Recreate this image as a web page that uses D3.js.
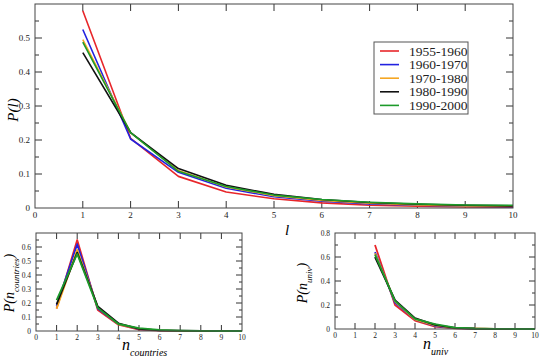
<!DOCTYPE html>
<html>
<head>
<meta charset="utf-8">
<script src="https://cdn.jsdelivr.net/npm/d3@7"></script>
<style>
  body { margin: 0; background: #fff; }
</style>
</head>
<body>
<div id="chart"></div>
<script>
(function() {
    const width = 545;
    const height = 363;
    const serif = "'Liberation Serif', 'Times New Roman', Times, 'DejaVu Serif', serif";

    // series names and colours
    const periods = ["1955-1960", "1960-1970", "1970-1980", "1980-1990", "1990-2000"];
    const colors = ["#e8262a", "#2222e0", "#f5a623", "#111111", "#1c9a2a"];

    // P(l), l = 1..10
    const lValues = [1, 2, 3, 4, 5, 6, 7, 8, 9, 10];
    const pL_1955 = [0.580, 0.205, 0.093, 0.047, 0.027, 0.015, 0.008, 0.005, 0.003, 0.002];
    const pL_1960 = [0.525, 0.203, 0.105, 0.058, 0.033, 0.020, 0.012, 0.008, 0.005, 0.004];
    const pL_1970 = [0.495, 0.222, 0.110, 0.062, 0.036, 0.022, 0.014, 0.009, 0.006, 0.005];
    const pL_1980 = [0.457, 0.222, 0.116, 0.067, 0.040, 0.025, 0.016, 0.011, 0.008, 0.006];
    const pL_1990 = [0.488, 0.222, 0.108, 0.063, 0.038, 0.025, 0.017, 0.012, 0.009, 0.008];

    // P(n_countries), n = 1..10
    const nCountries = [1, 2, 3, 4, 5, 6, 7, 8, 9, 10];
    const pC_1955 = [0.160, 0.650, 0.150, 0.045, 0.010, 0.003, 0.001, 0, 0, 0];
    const pC_1960 = [0.180, 0.620, 0.160, 0.050, 0.013, 0.004, 0.001, 0, 0, 0];
    const pC_1970 = [0.160, 0.580, 0.170, 0.050, 0.015, 0.004, 0.001, 0, 0, 0];
    const pC_1980 = [0.190, 0.560, 0.175, 0.055, 0.015, 0.005, 0.002, 0.001, 0, 0];
    const pC_1990 = [0.220, 0.550, 0.165, 0.050, 0.020, 0.008, 0.003, 0.001, 0, 0];

    // P(n_univ), n = 2..10
    const nUniv = [2, 3, 4, 5, 6, 7, 8, 9, 10];
    const pU_1955 = [0.700, 0.200, 0.070, 0.020, 0.005, 0.002, 0.001, 0, 0];
    const pU_1960 = [0.640, 0.220, 0.080, 0.025, 0.007, 0.002, 0.001, 0, 0];
    const pU_1970 = [0.630, 0.230, 0.080, 0.030, 0.008, 0.003, 0.001, 0, 0];
    const pU_1980 = [0.600, 0.240, 0.090, 0.035, 0.010, 0.003, 0.001, 0, 0];
    const pU_1990 = [0.620, 0.235, 0.085, 0.040, 0.012, 0.004, 0.001, 0, 0];

    const xTicks = [0, 1, 2, 3, 4, 5, 6, 7, 8, 9, 10];

    const svg = d3.select("#chart").append("svg")
        .attr("width", width)
        .attr("height", height)
        .attr("font-family", serif);

    /********************************************
     * PANEL HELPER
     ********************************************/
    function drawPanel(opt) {
        const g = svg.append("g").attr("transform", `translate(${opt.left},${opt.top})`);
        const w = opt.width, h = opt.height;

        const x = d3.scaleLinear().domain([0, 10]).range([0, w]);
        const y = d3.scaleLinear().domain([0, opt.yMax]).range([h, 0]);

        const tickCol = "#333";

        // x ticks inward, bottom and top
        [[h, -1], [0, 1]].forEach(([y0, dir]) => {
            g.selectAll(null).data(opt.xMajor).join("line")
                .attr("x1", d => x(d)).attr("x2", d => x(d))
                .attr("y1", y0).attr("y2", y0 + dir * opt.major)
                .attr("stroke", tickCol).attr("stroke-width", 1);
        });

        // y ticks on left and right
        [[0, 1], [w, -1]].forEach(([x0, dir]) => {
            g.selectAll(null).data(opt.yMajor).join("line")
                .attr("x1", x0).attr("x2", x0 + dir * opt.major)
                .attr("y1", d => y(d)).attr("y2", d => y(d))
                .attr("stroke", tickCol).attr("stroke-width", 1);
            g.selectAll(null).data(opt.yMinor).join("line")
                .attr("x1", x0).attr("x2", x0 + dir * opt.minor)
                .attr("y1", d => y(d)).attr("y2", d => y(d))
                .attr("stroke", tickCol).attr("stroke-width", 1);
        });

        // tick labels
        g.selectAll(null).data(xTicks).join("text")
            .attr("x", d => x(d)).attr("y", h + opt.fs + 1)
            .attr("text-anchor", "middle")
            .attr("font-family", serif)
            .style("font-size", opt.fs + "px").attr("fill", "#222")
            .text(d => d);
        g.selectAll(null).data(opt.yLabels).join("text")
            .attr("x", -5).attr("y", d => y(d) + opt.fs * 0.35)
            .attr("text-anchor", "end")
            .attr("font-family", serif)
            .style("font-size", opt.fs + "px").attr("fill", "#222")
            .text(d => d === 0 ? "0" : d3.format(".1f")(d));

        // series
        const line = d3.line().x(d => x(d[0])).y(d => y(d[1]));
        opt.series.forEach((vals, i) => {
            g.append("path")
                .datum(opt.xs.map((v, j) => [v, vals[j]]))
                .attr("d", line)
                .attr("fill", "none")
                .attr("stroke", colors[i])
                .attr("stroke-width", opt.lw)
                .attr("stroke-linejoin", "round");
        });

        // frame
        g.append("rect")
            .attr("width", w).attr("height", h)
            .attr("fill", "none").attr("stroke", "#444").attr("stroke-width", 1);

        return { g, x, y };
    }

    /********************************************
     * MAIN PANEL  P(l)
     ********************************************/
    drawPanel({
        left: 35, top: 4, width: 478, height: 204,
        yMax: 0.6,
        xMajor: d3.range(1, 10),
        yMajor: [0.1, 0.2, 0.3, 0.4, 0.5],
        yMinor: [0.05, 0.15, 0.25, 0.35, 0.45, 0.55],
        yLabels: [0, 0.1, 0.2, 0.3, 0.4, 0.5],
        major: 7, minor: 4, fs: 9, lw: 1.6,
        xs: lValues,
        series: [pL_1955, pL_1960, pL_1970, pL_1980, pL_1990]
    });

    svg.append("text")
        .attr("x", 287).attr("y", 235)
        .attr("text-anchor", "middle")
        .attr("font-family", serif)
        .style("font-size", "15px").style("font-style", "italic")
        .text("l");
    svg.append("text")
        .attr("transform", "translate(18,110) rotate(-90)")
        .attr("text-anchor", "middle")
        .attr("font-family", serif)
        .style("font-size", "15px").style("font-style", "italic")
        .text("P(l)");

    // legend
    const legend = svg.append("g").attr("transform", "translate(374,42)");
    legend.append("rect")
        .attr("width", 94).attr("height", 72)
        .attr("fill", "#fff").attr("stroke", "#555").attr("stroke-width", 1);
    periods.forEach((p, i) => {
        const yy = 9 + i * 13.6;
        legend.append("line")
            .attr("x1", 6).attr("x2", 25)
            .attr("y1", yy).attr("y2", yy)
            .attr("stroke", colors[i]).attr("stroke-width", 1.6);
        legend.append("text")
            .attr("x", 35).attr("y", yy + 4.5)
            .attr("font-family", serif)
            .style("font-size", "13.5px").attr("fill", "#222")
            .text(p);
    });

    /********************************************
     * LOWER LEFT  P(n_countries)
     ********************************************/
    drawPanel({
        left: 36, top: 233, width: 206, height: 98,
        yMax: 0.7,
        xMajor: d3.range(1, 10),
        yMajor: [0.1, 0.2, 0.3, 0.4, 0.5, 0.6],
        yMinor: [0.05, 0.15, 0.25, 0.35, 0.45, 0.55, 0.65],
        yLabels: [0, 0.1, 0.2, 0.3, 0.4, 0.5, 0.6],
        major: 6, minor: 3, fs: 7.5, lw: 1.8,
        xs: nCountries,
        series: [pC_1955, pC_1960, pC_1970, pC_1980, pC_1990]
    });

    const nc = svg.append("text")
        .attr("x", 122).attr("y", 350)
        .attr("font-family", serif)
        .style("font-size", "16px").style("font-style", "italic");
    nc.append("tspan").text("n");
    nc.append("tspan").attr("dy", 6).style("font-size", "10px").text("countries");

    const pc = svg.append("text")
        .attr("transform", "translate(14,283) rotate(-90)")
        .attr("text-anchor", "middle")
        .attr("font-family", serif)
        .style("font-size", "14px").style("font-style", "italic");
    pc.append("tspan").text("P(n");
    pc.append("tspan").attr("dy", 5).style("font-size", "9px").text("countries");
    pc.append("tspan").attr("dy", -5).text(")");

    /********************************************
     * LOWER RIGHT  P(n_univ)
     ********************************************/
    drawPanel({
        left: 335, top: 233, width: 200, height: 96,
        yMax: 0.8,
        xMajor: d3.range(1, 10),
        yMajor: [0.2, 0.4, 0.6],
        yMinor: [0.1, 0.3, 0.5, 0.7],
        yLabels: [0, 0.2, 0.4, 0.6, 0.8],
        major: 6, minor: 3, fs: 7.5, lw: 1.8,
        xs: nUniv,
        series: [pU_1955, pU_1960, pU_1970, pU_1980, pU_1990]
    });

    const nu = svg.append("text")
        .attr("x", 423).attr("y", 349)
        .attr("font-family", serif)
        .style("font-size", "16px").style("font-style", "italic");
    nu.append("tspan").text("n");
    nu.append("tspan").attr("dy", 6).style("font-size", "10px").text("univ");

    const pu = svg.append("text")
        .attr("transform", "translate(307,283) rotate(-90)")
        .attr("text-anchor", "middle")
        .attr("font-family", serif)
        .style("font-size", "14px").style("font-style", "italic");
    pu.append("tspan").text("P(n");
    pu.append("tspan").attr("dy", 5).style("font-size", "9px").text("univ");
    pu.append("tspan").attr("dy", -5).text(")");
})();
</script>
</body>
</html>
